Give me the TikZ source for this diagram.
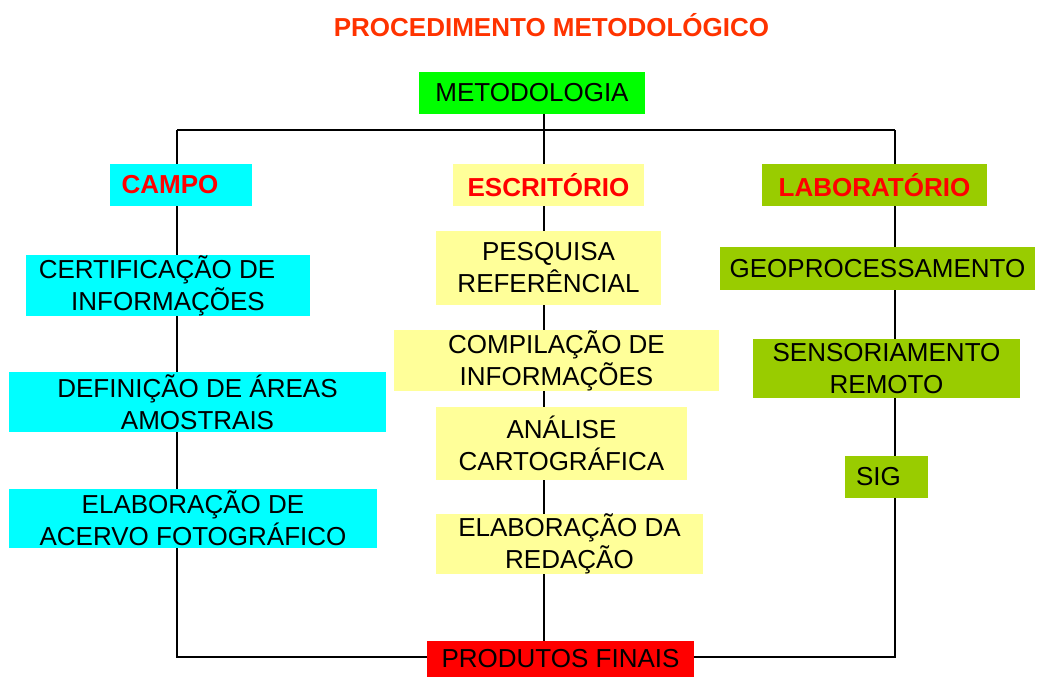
\documentclass[tikz,border=0pt]{standalone}
\usepackage{fontspec}
\setmainfont{Liberation Sans}
\usetikzlibrary{backgrounds}
\definecolor{ciano}{HTML}{00FFFF}
\definecolor{amarelo}{HTML}{FFFF99}
\definecolor{oliva}{HTML}{99CC00}
\definecolor{verde}{HTML}{00FF00}
\definecolor{vermelho}{HTML}{FF0000}
\definecolor{laranja}{HTML}{FF3300}
\newlength{\pxu}
\setlength{\pxu}{0.75pt}
\tikzset{
	caixa/.style 2 args={inner sep=0pt, minimum width=#1\pxu, minimum height=#2\pxu, align=center, font=\fontsize{19.5}{24}\selectfont},
	cabeca/.style={font=\bfseries\fontsize{19.5}{24}\selectfont, text=vermelho},
	linha/.style={line width=2.1pt}
}
\begin{document}
\begin{tikzpicture}[x=0.75pt,y=-0.75pt]
	\useasboundingbox (0,0) rectangle (1038,677);
	\node[font=\bfseries\fontsize{19.5}{24}\selectfont, text=laranja] (titulo) at (551.5,25) {PROCEDIMENTO METODOLÓGICO};
	\node[caixa={226}{42}, fill=verde] (meto) at (532,93) {METODOLOGIA};
	% categorias
	\node[caixa={142}{42}, cabeca, fill=ciano] (campo) at (181,185) {CAMPO\hspace*{22\pxu}};
	\node[caixa={191}{42}, cabeca, fill=amarelo] (escr) at (548.5,185) {ESCRITÓRIO};
	\node[caixa={225}{42}, cabeca, fill=oliva] (lab) at (874.5,185) {LABORATÓRIO};
	% campo
	\node[caixa={284}{59}, fill=ciano] (cert) at (168,285.5) {CERTIFICAÇÃO DE\hspace*{22\pxu}\\INFORMAÇÕES};
	\node[caixa={377}{60}, fill=ciano] (def) at (197.5,402) {DEFINIÇÃO DE ÁREAS\\AMOSTRAIS};
	\node[caixa={368}{59}, fill=ciano] (acervo) at (193,518.5) {ELABORAÇÃO DE\\ACERVO FOTOGRÁFICO};
	% escritorio
	\node[caixa={225}{74}, fill=amarelo] (pesq) at (548.5,268) {PESQUISA\\REFERÊNCIAL};
	\node[caixa={325}{59}, fill=amarelo] (comp) at (556.5,360.5) {COMPILAÇÃO DE\\INFORMAÇÕES};
	\node[caixa={251}{73}, fill=amarelo] (anal) at (561.5,443.5) {ANÁLISE\\CARTOGRÁFICA};
	\node[caixa={267}{58}, fill=amarelo] (redac) at (569.5,544) {ELABORAÇÃO DA\\REDAÇÃO};
	% laboratorio
	\node[caixa={315}{43}, fill=oliva] (geo) at (877.5,268.5) {GEOPROCESSAMENTO};
	\node[caixa={267}{59}, fill=oliva] (sens) at (886.5,368.5) {SENSORIAMENTO\\REMOTO};
	\node[caixa={83}{42}, fill=oliva] (sig) at (886.5,477) {SIG\hspace*{16\pxu}};
	\node[caixa={267}{36}, fill=vermelho] (prod) at (560.5,659) {PRODUTOS FINAIS};
	\coordinate (tl) at (177,130);
	\coordinate (tr) at (895,130);
	\coordinate (bl) at (177,657);
	\coordinate (br) at (895,657);
	\coordinate (meio) at (544,130);
	\begin{pgfonlayer}{background}
		\draw[linha] (tl) -- (tr);
		\draw[linha] (tl) -- (bl) -- (br) -- (tr);
		\draw[linha] (meio |- meto.south) -- (meio |- prod.north);
	\end{pgfonlayer}
\end{tikzpicture}
\end{document}
